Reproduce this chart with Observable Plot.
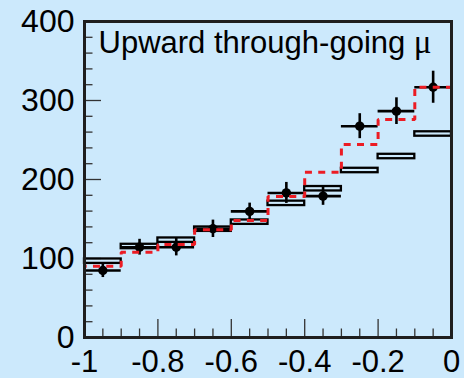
<!DOCTYPE html>
<html>
<head>
<meta charset="utf-8">
<script src="https://cdn.jsdelivr.net/npm/d3@7"></script>
<script src="https://cdn.jsdelivr.net/npm/@observablehq/plot@0.6"></script>
<style>
  html, body { margin: 0; padding: 0; background: #cce9fc; }
  #chart { width: 464px; height: 378px; }
</style>
</head>
<body>
<div id="chart"></div>
<script>
// Zenith-angle bins (cos θ) for upward through-going muons
const binLow  = [-1.0, -0.9, -0.8, -0.7, -0.6, -0.5, -0.4, -0.3, -0.2, -0.1];
const binHigh = [-0.9, -0.8, -0.7, -0.6, -0.5, -0.4, -0.3, -0.2, -0.1, 0.0];

// Observed flux with statistical errors
const dataValue = [84.8, 114.3, 114.3, 137.6, 159.6, 183.0, 178.9, 267.5, 286.5, 316.8];
const dataError = [8.9, 10.0, 11.0, 11.0, 10.5, 13.3, 11.6, 15.8, 16.9, 20.3];

// Expectation without oscillation (boxes) and its uncertainty
const noOscValue = [96.6, 115.2, 123.2, 137.1, 146.0, 169.8, 188.3, 211.4, 229.1, 257.6];
const noOscError = [2.8, 2.8, 2.8, 2.8, 2.8, 2.8, 2.8, 2.8, 2.8, 2.8];

// Best-fit oscillated expectation (dashed histogram)
const oscValue = [90.3, 108.0, 117.7, 136.3, 148.0, 178.5, 209.2, 244.3, 276.0, 316.8];

// Axis ticks and labels
const xMajorTicks = [-1, -0.8, -0.6, -0.4, -0.2, 0];
const xTickLabels = ["-1", "-0.8", "-0.6", "-0.4", "-0.2", "0"];
const xMinorTicks = [-0.95, -0.9, -0.85, -0.75, -0.7, -0.65, -0.55, -0.5, -0.45,
                     -0.35, -0.3, -0.25, -0.15, -0.1, -0.05];
const yMajorTicks = [0, 100, 200, 300, 400];
const yTickLabels = ["0", "100", "200", "300", "400"];
const yMinorTicks = [20, 40, 60, 80, 120, 140, 160, 180, 220, 240, 260, 280, 320, 340, 360, 380];

const title = "Upward through-going μ";

// Build tables for the marks
const bins = binLow.map((lo, i) => ({
  lo, hi: binHigh[i], mid: (lo + binHigh[i]) / 2,
  data: dataValue[i], err: dataError[i],
  box: noOscValue[i], boxErr: noOscError[i]
}));

// Outline of the dashed histogram: up the left edge, across each bin, down the right edge
const oscPath = [{x: binLow[0], y: 0}];
binLow.forEach((lo, i) => {
  oscPath.push({x: lo, y: oscValue[i]});
  oscPath.push({x: binHigh[i], y: oscValue[i]});
});
oscPath.push({x: binHigh[binHigh.length - 1], y: 0});

const W = 464, H = 378;
const mL = 84, mR = 13, mT = 21, mB = 41;
const innerW = W - mL - mR, innerH = H - mT - mB;
const ink = "#1e1e1e";

const chart = Plot.plot({
  width: W, height: H,
  marginLeft: mL, marginRight: mR, marginTop: mT, marginBottom: mB,
  x: {domain: [-1, 0], axis: null},
  y: {domain: [0, 400], axis: null},
  style: {background: "#cce9fc", fontFamily: "'Liberation Sans', Arial, sans-serif", color: "#000"},
  marks: [
    // inward ticks
    Plot.tickX(xMinorTicks, {x: d => d, stroke: "#333", strokeWidth: 1.3, insetTop: innerH - 8.5}),
    Plot.tickX(xMajorTicks, {x: d => d, stroke: "#333", strokeWidth: 1.3, insetTop: innerH - 18}),
    Plot.tickY(yMinorTicks, {y: d => d, stroke: "#333", strokeWidth: 1.3, insetRight: innerW - 8.5}),
    Plot.tickY(yMajorTicks, {y: d => d, stroke: "#333", strokeWidth: 1.3, insetRight: innerW - 17}),

    // no-oscillation expectation boxes
    Plot.rect(bins, {x1: "lo", x2: "hi", y1: d => d.box - d.boxErr, y2: d => d.box + d.boxErr,
      fill: "none", stroke: "#000", strokeWidth: 2.3}),

    // data: horizontal bin bars, vertical error bars, markers
    Plot.ruleY(bins, {x1: "lo", x2: "hi", y: "data", stroke: "#000", strokeWidth: 2.6}),
    Plot.ruleX(bins, {x: "mid", y1: d => d.data - d.err, y2: d => d.data + d.err, stroke: "#000", strokeWidth: 2.6}),
    Plot.dot(bins, {x: "mid", y: "data", r: 4.7, fill: "#000", stroke: "none"}),

    // oscillated expectation
    Plot.line(oscPath, {x: "x", y: "y", stroke: "#ec1c24", strokeWidth: 3,
      strokeDasharray: "7 6.3", strokeLinecap: "butt", strokeLinejoin: "miter"}),

    Plot.frame({stroke: ink, strokeWidth: 3}),

    // tick labels
    Plot.text(xMajorTicks, {x: d => d, text: (d, i) => xTickLabels[i], frameAnchor: "bottom",
      lineAnchor: "bottom", dy: 34, fontSize: 31, fill: "#000"}),
    Plot.text(yMajorTicks, {y: d => d, text: (d, i) => yTickLabels[i], frameAnchor: "left",
      textAnchor: "end", dx: -10, fontSize: 32, fill: "#000"}),

    // panel title
    Plot.text([title], {text: d => d, frameAnchor: "top-left", textAnchor: "start",
      lineAnchor: "top", dx: 14, dy: 9, fontSize: 31, fill: "#000"})
  ]
});

// Set the muon symbol in a serif face
d3.select(chart).selectAll("text").each(function () {
  const s = this.textContent;
  if (s.includes("μ")) {
    const k = s.indexOf("μ");
    this.textContent = "";
    d3.select(this).append("tspan").text(s.slice(0, k));
    d3.select(this).append("tspan")
      .attr("font-family", "'Liberation Serif', 'DejaVu Serif', serif")
      .attr("font-size", 33)
      .text(s.slice(k));
  }
});

document.getElementById("chart").appendChild(chart);
</script>
</body>
</html>
